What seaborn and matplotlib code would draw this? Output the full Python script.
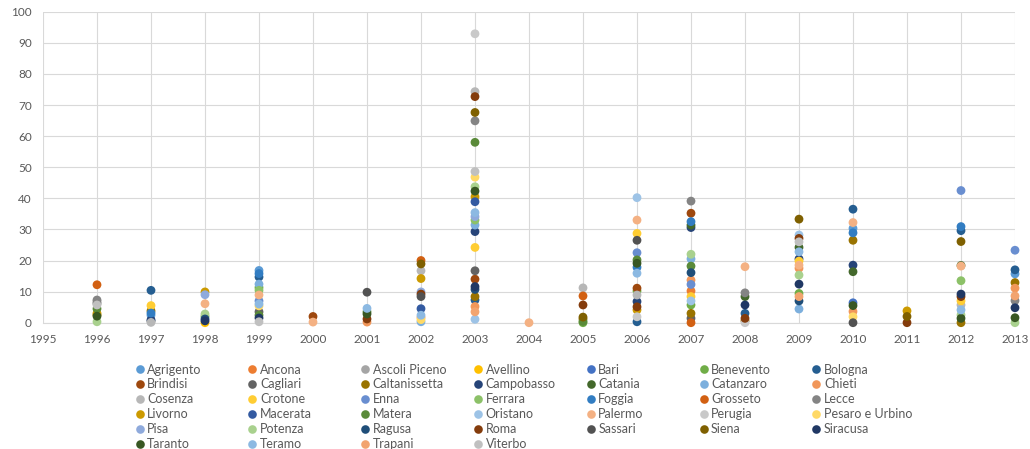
import numpy as np
import pandas as pd
import matplotlib
matplotlib.use("Agg")
import matplotlib.pyplot as plt
from matplotlib.lines import Line2D
import seaborn as sns

# Provinces, in series order
cities = [
    "Agrigento", "Ancona", "Ascoli Piceno", "Avellino", "Bari", "Benevento", "Bologna",
    "Brindisi", "Cagliari", "Caltanissetta", "Campobasso", "Catania", "Catanzaro", "Chieti",
    "Cosenza", "Crotone", "Enna", "Ferrara", "Foggia", "Grosseto", "Lecce",
    "Livorno", "Macerata", "Matera", "Oristano", "Palermo", "Perugia", "Pesaro e Urbino",
    "Pisa", "Potenza", "Ragusa", "Roma", "Sassari", "Siena", "Siracusa",
    "Taranto", "Teramo", "Trapani", "Viterbo",
]

# Office-style series colours
colors = [
    "#5B9BD5", "#ED7D31", "#A5A5A5", "#FFC000", "#4472C4", "#70AD47",
    "#255E91", "#9E480E", "#636363", "#997300", "#264478", "#43682B",
    "#7CAFDD", "#F1975A", "#B7B7B7", "#FFCD33", "#698ED0", "#8CC168",
    "#327DC2", "#D26012", "#848484", "#CC9A00", "#335AA1", "#5A8A39",
    "#9DC3E6", "#F4B183", "#C9C9C9", "#FFD966", "#8FAADC", "#A9D18E",
    "#1F4E79", "#843C0C", "#525252", "#7F6000", "#203864", "#385723",
    "#8CB9E2", "#F2A46F", "#C0C0C0",
]

# Values per year
y1996 = {"Grosseto": 12.2, "Lecce": 7.3, "Ascoli Piceno": 6.8, "Cagliari": 6.2, "Viterbo": 5.7,
         "Matera": 4.5, "Livorno": 3.0, "Caltanissetta": 2.5, "Taranto": 2.1, "Potenza": 0.3}
y1997 = {"Bologna": 10.4, "Crotone": 5.5, "Caltanissetta": 3.8, "Foggia": 3.1, "Agrigento": 2.4,
         "Campobasso": 0.9, "Cagliari": 0.5, "Cosenza": 0.1}
y1998 = {"Livorno": 9.9, "Pisa": 9.0, "Palermo": 6.1, "Potenza": 2.8, "Benevento": 2.0,
         "Ragusa": 1.2, "Siracusa": 0.6, "Avellino": 0.0}
y1999 = {"Agrigento": 16.8, "Foggia": 15.8, "Bologna": 14.7, "Catanzaro": 12.4, "Benevento": 11.3,
         "Ferrara": 10.4, "Palermo": 8.9, "Enna": 7.0, "Teramo": 6.0, "Pesaro e Urbino": 5.4,
         "Cagliari": 3.5, "Matera": 2.4, "Siracusa": 1.5, "Viterbo": 0.3}
y2000 = {"Brindisi": 2.0, "Palermo": 0.2}
y2001 = {"Sassari": 9.8, "Teramo": 4.6, "Matera": 3.5, "Taranto": 2.8, "Roma": 1.2, "Chieti": 0.2}
y2002 = {"Grosseto": 20.0, "Siena": 18.9, "Cosenza": 16.7, "Livorno": 14.2, "Pisa": 9.9,
         "Roma": 9.2, "Sassari": 8.4, "Macerata": 4.5, "Teramo": 2.4, "Chieti": 1.7,
         "Pesaro e Urbino": 1.0, "Catanzaro": 0.3}
y2003 = {"Perugia": 92.9, "Cosenza": 74.3, "Roma": 72.7, "Siena": 67.6, "Lecce": 64.9,
         "Matera": 58.0, "Viterbo": 48.6, "Pesaro e Urbino": 46.8, "Potenza": 43.7,
         "Taranto": 42.3, "Livorno": 40.5, "Macerata": 38.9, "Teramo": 35.4, "Pisa": 34.1,
         "Ferrara": 33.0, "Catanzaro": 31.4, "Campobasso": 29.3, "Crotone": 24.2,
         "Cagliari": 16.7, "Brindisi": 14.0, "Siracusa": 11.6, "Ragusa": 10.7,
         "Caltanissetta": 8.4, "Bologna": 7.3, "Chieti": 5.2, "Trapani": 3.5, "Oristano": 1.1}
y2004 = {"Palermo": 0.0}
y2005 = {"Cosenza": 11.2, "Grosseto": 8.6, "Roma": 5.7, "Siena": 1.8, "Caltanissetta": 1.2,
         "Matera": 0.4, "Benevento": 0.0}
y2006 = {"Oristano": 40.2, "Palermo": 33.0, "Crotone": 28.7, "Sassari": 26.5, "Enna": 22.5,
         "Matera": 20.2, "Taranto": 19.1, "Foggia": 17.8, "Teramo": 15.9, "Brindisi": 11.1,
         "Benevento": 10.2, "Cosenza": 8.9, "Campobasso": 6.8, "Roma": 5.1, "Livorno": 4.1,
         "Perugia": 1.9, "Bologna": 0.3}
y2007 = {"Lecce": 39.1, "Brindisi": 35.2, "Foggia": 32.5, "Catania": 31.4, "Campobasso": 30.6,
         "Potenza": 22.0, "Catanzaro": 20.5, "Matera": 18.2, "Ragusa": 16.1, "Chieti": 13.7,
         "Enna": 12.3, "Ancona": 10.2, "Crotone": 8.4, "Oristano": 7.0, "Benevento": 5.7,
         "Caltanissetta": 3.0, "Cagliari": 1.4, "Grosseto": 0.0}
y2008 = {"Palermo": 18.0, "Lecce": 9.6, "Catania": 8.4, "Siracusa": 5.7, "Bologna": 3.0,
         "Roma": 1.4, "Caltanissetta": 0.6, "Perugia": 0.0}
y2009 = {"Siena": 33.3, "Oristano": 28.2, "Roma": 27.1, "Viterbo": 26.0, "Catania": 24.2,
         "Teramo": 22.8, "Campobasso": 20.5, "Crotone": 19.8, "Palermo": 18.5, "Chieti": 17.5,
         "Potenza": 15.3, "Siracusa": 12.4, "Benevento": 9.4, "Trapani": 8.4, "Ragusa": 7.0,
         "Catanzaro": 4.4}
y2010 = {"Bologna": 36.5, "Palermo": 32.2, "Agrigento": 30.3, "Foggia": 28.9,
         "Caltanissetta": 26.5, "Campobasso": 18.5, "Catania": 16.4, "Bari": 6.4,
         "Taranto": 5.5, "Chieti": 3.6, "Pesaro e Urbino": 1.9, "Sassari": 0.0}
y2011 = {"Livorno": 3.8, "Siena": 2.0, "Roma": 0.0}
y2012 = {"Enna": 42.5, "Foggia": 30.9, "Bologna": 29.6, "Siena": 26.1, "Catania": 18.4,
         "Palermo": 18.2, "Ferrara": 13.5, "Siracusa": 9.2, "Roma": 8.4, "Crotone": 7.0,
         "Cosenza": 5.7, "Teramo": 4.1, "Potenza": 2.5, "Taranto": 1.4, "Caltanissetta": 0.0}
y2013 = {"Enna": 23.3, "Bologna": 17.0, "Agrigento": 15.7, "Caltanissetta": 12.9,
         "Chieti": 11.1, "Trapani": 8.6, "Lecce": 7.1, "Siracusa": 4.8, "Taranto": 1.6,
         "Potenza": 0.0}

by_year = {
    1996: y1996, 1997: y1997, 1998: y1998, 1999: y1999, 2000: y2000, 2001: y2001,
    2002: y2002, 2003: y2003, 2004: y2004, 2005: y2005, 2006: y2006, 2007: y2007,
    2008: y2008, 2009: y2009, 2010: y2010, 2011: y2011, 2012: y2012, 2013: y2013,
}

rows = [(c, yr, v) for yr, d in by_year.items() for c, v in d.items()]
df = pd.DataFrame(rows, columns=["city", "year", "value"])
df["order"] = df["city"].map({c: i for i, c in enumerate(cities)})
df = df.sort_values(["order", "year"]).reset_index(drop=True)

sns.set_theme(style="white")
plt.rcParams["font.family"] = ["Lato", "DejaVu Sans"]
text_col = "#595959"
grid_col = "#D9D9D9"

fig = plt.figure(figsize=(10.30, 4.49), dpi=100)
ax = fig.add_axes([43 / 1030, 1 - 322.7 / 449, (1015 - 43) / 1030, (322.7 - 11.7) / 449])

palette = dict(zip(cities, colors))
sns.scatterplot(data=df, x="year", y="value", hue="city", hue_order=cities,
                palette=palette, s=40, linewidth=0, legend=False, ax=ax,
                clip_on=False, zorder=3)

ax.set_xlim(1995, 2013)
ax.set_ylim(0, 100)
ax.set_xticks(range(1995, 2014))
ax.set_yticks(range(0, 101, 10))
ax.grid(True, color=grid_col, linewidth=0.8)
ax.set_axisbelow(True)
for side in ["top", "right", "left"]:
    ax.spines[side].set_visible(False)
ax.spines["bottom"].set_color(grid_col)
ax.spines["bottom"].set_linewidth(0.8)
ax.set_xlabel("")
ax.set_ylabel("")
ax.tick_params(axis="both", length=0, labelsize=8.5, labelcolor=text_col)
ax.tick_params(axis="x", pad=8)
ax.tick_params(axis="y", pad=8)

# Legend: 7 columns, filled row by row
ncols = 7
col_x0, col_dx = 134.6, 112.8
for j in range(ncols):
    idx = list(range(j, len(cities), ncols))
    handles = [Line2D([], [], linestyle="none", marker="o", markersize=6.2,
                      markerfacecolor=colors[i], markeredgewidth=0) for i in idx]
    labels = [cities[i] for i in idx]
    fig.legend(handles, labels, loc="upper left",
               bbox_to_anchor=((col_x0 + j * col_dx) / 1030, 1 - 363.5 / 449),
               frameon=False, fontsize=9, labelcolor=text_col,
               handlelength=0.8, handletextpad=0.2, borderpad=0,
               borderaxespad=0, labelspacing=0.23)

fig.savefig("out.png", dpi=100)
